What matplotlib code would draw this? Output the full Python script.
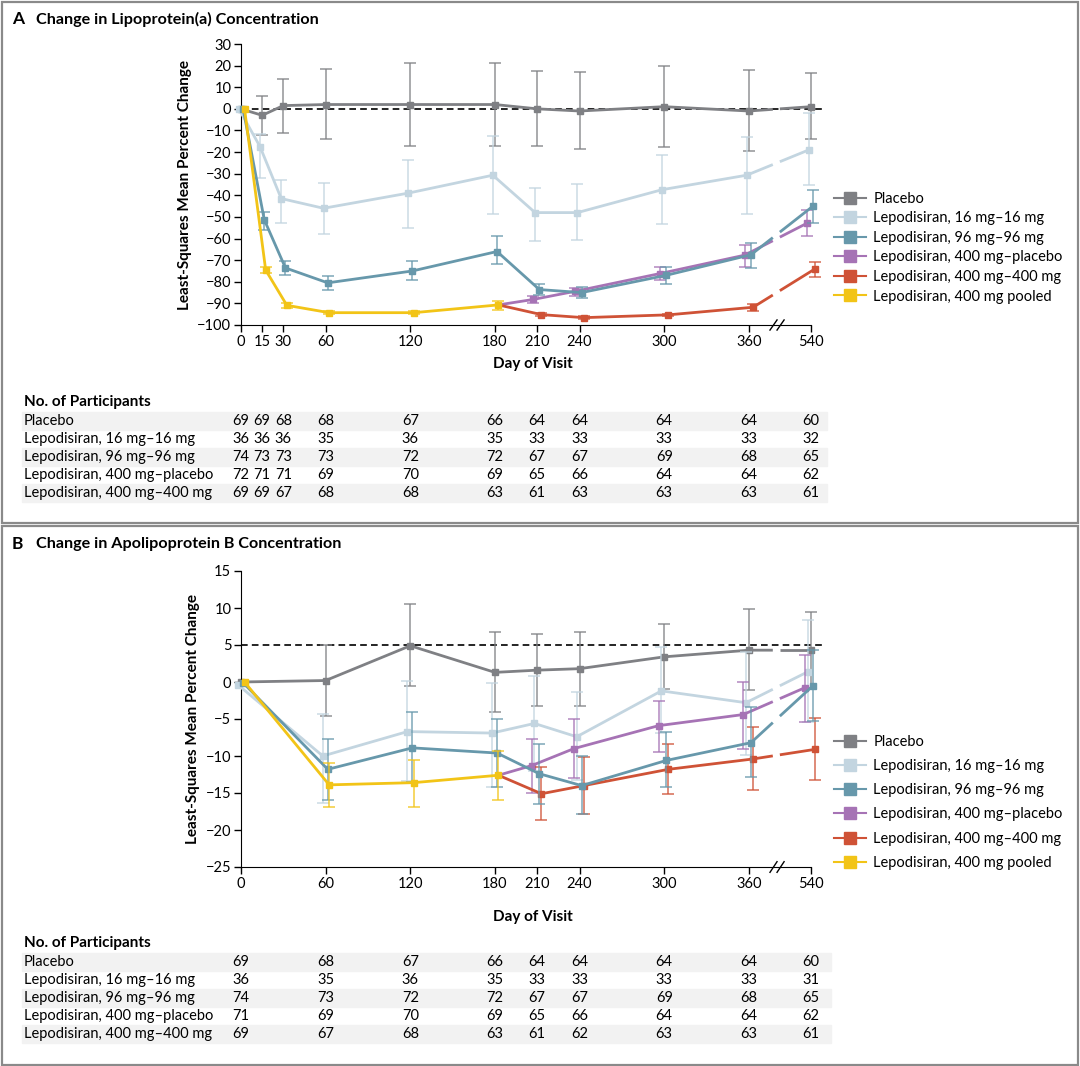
import numpy as np
import matplotlib
matplotlib.use("Agg")
import matplotlib.pyplot as plt
from matplotlib.lines import Line2D
from matplotlib.patches import Rectangle
from matplotlib.transforms import blended_transform_factory

plt.rcParams["font.family"] = ["Lato", "DejaVu Sans"]

nan = np.nan

# ---------------- Panel A: lipoprotein(a) ----------------
days_a = [0, 15, 30, 60, 120, 180, 210, 240, 300, 360, 540]
placebo_a = [0, -3, 1.5, 2, 2, 2, 0, -1, 1, -1, 1]
placebo_a_hi = [nan, 6, 14, 18.5, 21, 21, 17.5, 17, 20, 17.8, 16.5]
placebo_a_lo = [nan, -12, -11.3, -14, -17, -17, -17.3, -18.5, -17.6, -19.4, -14]
mg16_a = [0, -17.5, -41.5, -46, -39, -30.7, -48, -48, -37.4, -30.7, -19]
mg16_a_hi = [nan, -11.7, -32.9, -34.5, -23.5, -12.5, -36.8, -34.7, -21.3, -12.8, -1.8]
mg16_a_lo = [nan, -31.8, -52.7, -58, -54.9, -48.5, -61, -60.6, -53.3, -48.7, -35.4]
mg96_a = [0, -51.3, -73.6, -80.5, -75, -66, -83.6, -85, -77, -67.5, -45]
mg96_a_hi = [nan, -47.7, -70.3, -77.4, -70.3, -59, -80.9, -82.4, -73, -62, -37.4]
mg96_a_lo = [nan, -56, -77, -83.6, -79.3, -71.7, -86.2, -87.6, -81, -73.7, -53]
pooled_days_a = [0, 15, 30, 60, 120, 180]
pooled_a = [0, -74.6, -90.9, -94.3, -94.3, -90.7]
pooled_a_hi = [nan, -73, -89.8, -93.5, -93.5, -89]
pooled_a_lo = [nan, -76, -92.1, -95, -95, -92.9]
late_days = [210, 240, 300, 360, 540]
mg400pl_a = [-88.2, -84.4, -76.2, -67.7, -53]
mg400pl_a_hi = [-86.7, -82.8, -73.2, -63.2, -46.8]
mg400pl_a_lo = [-89.8, -86.4, -79.3, -73, -58.9]
mg400_a = [-95.2, -96.6, -95.3, -91.8, -74]
mg400_a_hi = [-94.5, -96, -94.7, -90.2, -70.8]
mg400_a_lo = [-95.9, -97.2, -95.9, -93.3, -77.6]

# ---------------- Panel B: apolipoprotein B ----------------
days_b = [0, 60, 120, 180, 210, 240, 300, 360, 540]
placebo_b = [0, 0.2, 4.9, 1.3, 1.6, 1.8, 3.4, 4.3, 4.3]
placebo_b_hi = [nan, 5, 10.6, 6.8, 6.5, 6.7, 7.8, 9.8, 9.4]
placebo_b_lo = [nan, -4.6, -0.6, -4.1, -3.3, -3.2, -1, -1.1, -0.8]
mg16_b = [-0.4, -10, -6.7, -6.9, -5.6, -7.4, -1.2, -2.8, 1.4]
mg16_b_hi = [nan, -4.3, 0.1, -0.2, 0.8, -1.3, 4.7, 4, 8.4]
mg16_b_lo = [nan, -16.3, -13.4, -14.2, -12, -13.3, -6.9, -9.8, -5.4]
mg96_b = [-0.1, -11.8, -8.9, -9.6, -12.4, -14, -10.6, -8.2, -0.5]
mg96_b_hi = [nan, -7.7, -4.1, -5, -8.4, -10, -6.8, -3.4, 4.3]
mg96_b_lo = [nan, -15.9, -13.5, -14.2, -16.5, -17.8, -14.2, -12.8, -5.3]
pooled_days_b = [0, 60, 120, 180]
pooled_b = [0, -13.9, -13.6, -12.6]
pooled_b_hi = [nan, -11, -10.5, -9.3]
pooled_b_lo = [nan, -16.9, -16.9, -15.9]
mg400pl_b = [-11.3, -9, -5.9, -4.4, -0.75]
mg400pl_b_hi = [-7.7, -5, -2.5, 0, 3.6]
mg400pl_b_lo = [-15, -13, -9.5, -9.1, -5.4]
mg400_b = [-15.1, -14, -11.8, -10.4, -9.1]
mg400_b_hi = [-11.5, -10.1, -8.4, -6.1, -4.8]
mg400_b_lo = [-18.7, -17.9, -15.1, -14.6, -13.3]

# ---------------- participant tables ----------------
row_names = ["Placebo", "Lepodisiran, 16 mg\u201316 mg", "Lepodisiran, 96 mg\u201396 mg",
             "Lepodisiran, 400 mg\u2013placebo", "Lepodisiran, 400 mg\u2013400 mg"]
counts_a = [
    [69, 69, 68, 68, 67, 66, 64, 64, 64, 64, 60],
    [36, 36, 36, 35, 36, 35, 33, 33, 33, 33, 32],
    [74, 73, 73, 73, 72, 72, 67, 67, 69, 68, 65],
    [72, 71, 71, 69, 70, 69, 65, 66, 64, 64, 62],
    [69, 69, 67, 68, 68, 63, 61, 63, 63, 63, 61],
]
counts_b = [
    [69, 68, 67, 66, 64, 64, 64, 64, 60],
    [36, 35, 36, 35, 33, 33, 33, 33, 31],
    [74, 73, 72, 72, 67, 67, 69, 68, 65],
    [71, 69, 70, 69, 65, 66, 64, 64, 62],
    [69, 67, 68, 63, 61, 62, 63, 63, 61],
]

legend_names = ["Placebo", "Lepodisiran, 16 mg\u201316 mg", "Lepodisiran, 96 mg\u201396 mg",
                "Lepodisiran, 400 mg\u2013placebo", "Lepodisiran, 400 mg\u2013400 mg",
                "Lepodisiran, 400 mg pooled"]
colors = ["#7f8084", "#c3d5e0", "#6798ab", "#a673b5", "#cf5236", "#f2c417"]

W, H = 1080, 1066
BREAK_POS = 404      # day 540 is drawn here (axis break after 360)
GAP = (377, 382)     # white gap in lines across the break


def xmap(days):
    return np.array([d if d <= 360 else BREAK_POS for d in days], dtype=float)


def draw_series(ax, days, vals, hi, lo, color, dx, z, start=None):
    x = xmap(days) + dx
    v = np.array(vals, dtype=float)
    hi = np.array(hi, dtype=float)
    lo = np.array(lo, dtype=float)
    ax.errorbar(x, v, yerr=[v - lo, hi - v], fmt="none", ecolor=color, elinewidth=1.1,
                capsize=4.5, capthick=1.1, alpha=0.85, zorder=z, clip_on=False)
    lx, lv = list(x), list(v)
    if start is not None:
        lx = [start[0]] + lx
        lv = [start[1]] + lv
    lx, lv = np.array(lx), np.array(lv)
    if days[-1] > 360:
        x0, x1, y0, y1 = lx[-2], lx[-1], lv[-2], lv[-1]
        f0 = (GAP[0] - x0) / (x1 - x0)
        f1 = (GAP[1] - x0) / (x1 - x0)
        ax.plot(list(lx[:-1]) + [GAP[0]], list(lv[:-1]) + [y0 + f0 * (y1 - y0)],
                color=color, lw=2, zorder=z + 0.1, clip_on=False, solid_capstyle="butt")
        ax.plot([GAP[1], x1], [y0 + f1 * (y1 - y0), y1], color=color, lw=2,
                zorder=z + 0.1, clip_on=False, solid_capstyle="butt")
    else:
        ax.plot(lx, lv, color=color, lw=2, zorder=z + 0.1, clip_on=False)
    ax.plot(x, v, "s", color=color, ms=4, zorder=z + 0.2, clip_on=False)


def px_axes(fig, left, top, right, bottom):
    return fig.add_axes([left / W, 1 - bottom / H, (right - left) / W, (bottom - top) / H])


def style_axes(ax, ticks, labels, ylim, yticks, xpad):
    ax.set_xlim(0, 414)
    ax.set_ylim(*ylim)
    ax.spines["top"].set_visible(False)
    ax.spines["right"].set_visible(False)
    ax.spines["bottom"].set_bounds(0, BREAK_POS)
    ax.spines["left"].set_bounds(*ylim)
    ax.set_xticks(xmap(ticks))
    ax.set_xticklabels(labels)
    ax.set_yticks(yticks)
    ax.tick_params(labelsize=10.5, length=5, width=1, pad=2)
    ax.set_xlabel("Day of Visit", fontsize=11, fontweight="bold", labelpad=xpad)
    ax.set_ylabel("Least-Squares Mean Percent Change", fontsize=11, fontweight="bold", labelpad=4)
    ax.patch.set_visible(False)
    tr = blended_transform_factory(ax.transData, ax.transAxes)
    for bx in (375, 380):
        ax.plot([bx, bx + 5], [-0.018, 0.018], color="black", lw=1, transform=tr, clip_on=False)


def draw_table(fig, ax, days, counts, top_y, band_right):
    tr = blended_transform_factory(ax.transData, fig.transFigure)
    fig.text(24 / W, 1 - top_y / H, "No. of Participants", fontsize=11, fontweight="bold",
             va="center", ha="left")
    for i, (name, row) in enumerate(zip(row_names, counts)):
        yc = top_y + 19 + i * 17.9
        if i % 2 == 0:
            fig.patches.append(Rectangle((22 / W, 1 - (yc + 9) / H), (band_right - 22) / W, 18 / H,
                                         transform=fig.transFigure, color="#f2f2f2", zorder=-5))
        fig.text(24 / W, 1 - yc / H, name, fontsize=10.5, va="center", ha="left")
        for d, n in zip(xmap(days), row):
            ax.text(d, 1 - yc / H, str(n), transform=tr, fontsize=10.5, va="center", ha="center",
                    clip_on=False)


def draw_legend(ax, y_top, spacing):
    handles = [Line2D([], [], color=c, lw=1.5, marker="s", ms=9) for c in colors]
    ax.legend(handles, legend_names, loc="upper left", frameon=False, fontsize=10.5,
              bbox_to_anchor=(828 / W, 1 - y_top / H), bbox_transform=ax.figure.transFigure,
              handlelength=2.2, handletextpad=0.5, labelspacing=spacing, borderaxespad=0)


fig = plt.figure(figsize=(W / 100, H / 100), dpi=100)

# panel frames
fig.patches.append(Rectangle((1.5 / W, 1 - 523 / H), 1076 / W, 521 / H, transform=fig.transFigure,
                             fill=False, edgecolor="#8a8a8a", lw=1.6))
fig.patches.append(Rectangle((1.5 / W, 1 - 1064.5 / H), 1076 / W, 539 / H, transform=fig.transFigure,
                             fill=False, edgecolor="#8a8a8a", lw=1.6))

# ---- A ----
ax_a = px_axes(fig, 241, 44, 825, 325)
style_axes(ax_a, days_a, [str(d) for d in days_a], (-100, 30), np.arange(-100, 31, 10), 6)
ax_a.axhline(0, xmin=0, xmax=1, color="black", lw=1.2, ls=(0, (4, 2.5)), zorder=1)
draw_series(ax_a, days_a, placebo_a, placebo_a_hi, placebo_a_lo, colors[0], 0, 2)
draw_series(ax_a, days_a, mg16_a, mg16_a_hi, mg16_a_lo, colors[1], -1.5, 3)
draw_series(ax_a, late_days, mg400pl_a, mg400pl_a_hi, mg400pl_a_lo, colors[3], -3, 4,
            start=(180 + 2.5, pooled_a[-1]))
draw_series(ax_a, late_days, mg400_a, mg400_a_hi, mg400_a_lo, colors[4], 3, 5,
            start=(180 + 2.5, pooled_a[-1]))
draw_series(ax_a, days_a, mg96_a, mg96_a_hi, mg96_a_lo, colors[2], 1.5, 6)
draw_series(ax_a, pooled_days_a, pooled_a, pooled_a_hi, pooled_a_lo, colors[5], 2.5, 7)
draw_legend(ax_a, 186, 0.38)
draw_table(fig, ax_a, days_a, counts_a, 402, 827)
fig.text(12 / W, 1 - 19 / H, "A", fontsize=12.5, fontweight="bold", va="center")
fig.text(36 / W, 1 - 19 / H, "Change in Lipoprotein(a) Concentration", fontsize=11.6,
         fontweight="bold", va="center")

# ---- B ----
ax_b = px_axes(fig, 241, 571, 825, 867)
style_axes(ax_b, days_b, [str(d) for d in days_b], (-25, 15), np.arange(-25, 16, 5), 14)
ax_b.axhline(5, xmin=0, xmax=1, color="black", lw=1.2, ls=(0, (4, 2.5)), zorder=1)
draw_series(ax_b, days_b, placebo_b, placebo_b_hi, placebo_b_lo, colors[0], 0, 2)
draw_series(ax_b, days_b, mg16_b, mg16_b_hi, mg16_b_lo, colors[1], -2, 3)
draw_series(ax_b, late_days, mg400pl_b, mg400pl_b_hi, mg400pl_b_lo, colors[3], -4, 4,
            start=(180 + 2.5, pooled_b[-1]))
draw_series(ax_b, late_days, mg400_b, mg400_b_hi, mg400_b_lo, colors[4], 3, 5,
            start=(180 + 2.5, pooled_b[-1]))
draw_series(ax_b, days_b, mg96_b, mg96_b_hi, mg96_b_lo, colors[2], 1.5, 6)
draw_series(ax_b, pooled_days_b, pooled_b, pooled_b_hi, pooled_b_lo, colors[5], 2.5, 7)
draw_legend(ax_b, 729, 0.7)
draw_table(fig, ax_b, days_b, counts_b, 943, 831)
fig.text(12 / W, 1 - 544 / H, "B", fontsize=12.5, fontweight="bold", va="center")
fig.text(36 / W, 1 - 544 / H, "Change in Apolipoprotein B Concentration", fontsize=11.6,
         fontweight="bold", va="center")

fig.savefig("out.png", dpi=100)
